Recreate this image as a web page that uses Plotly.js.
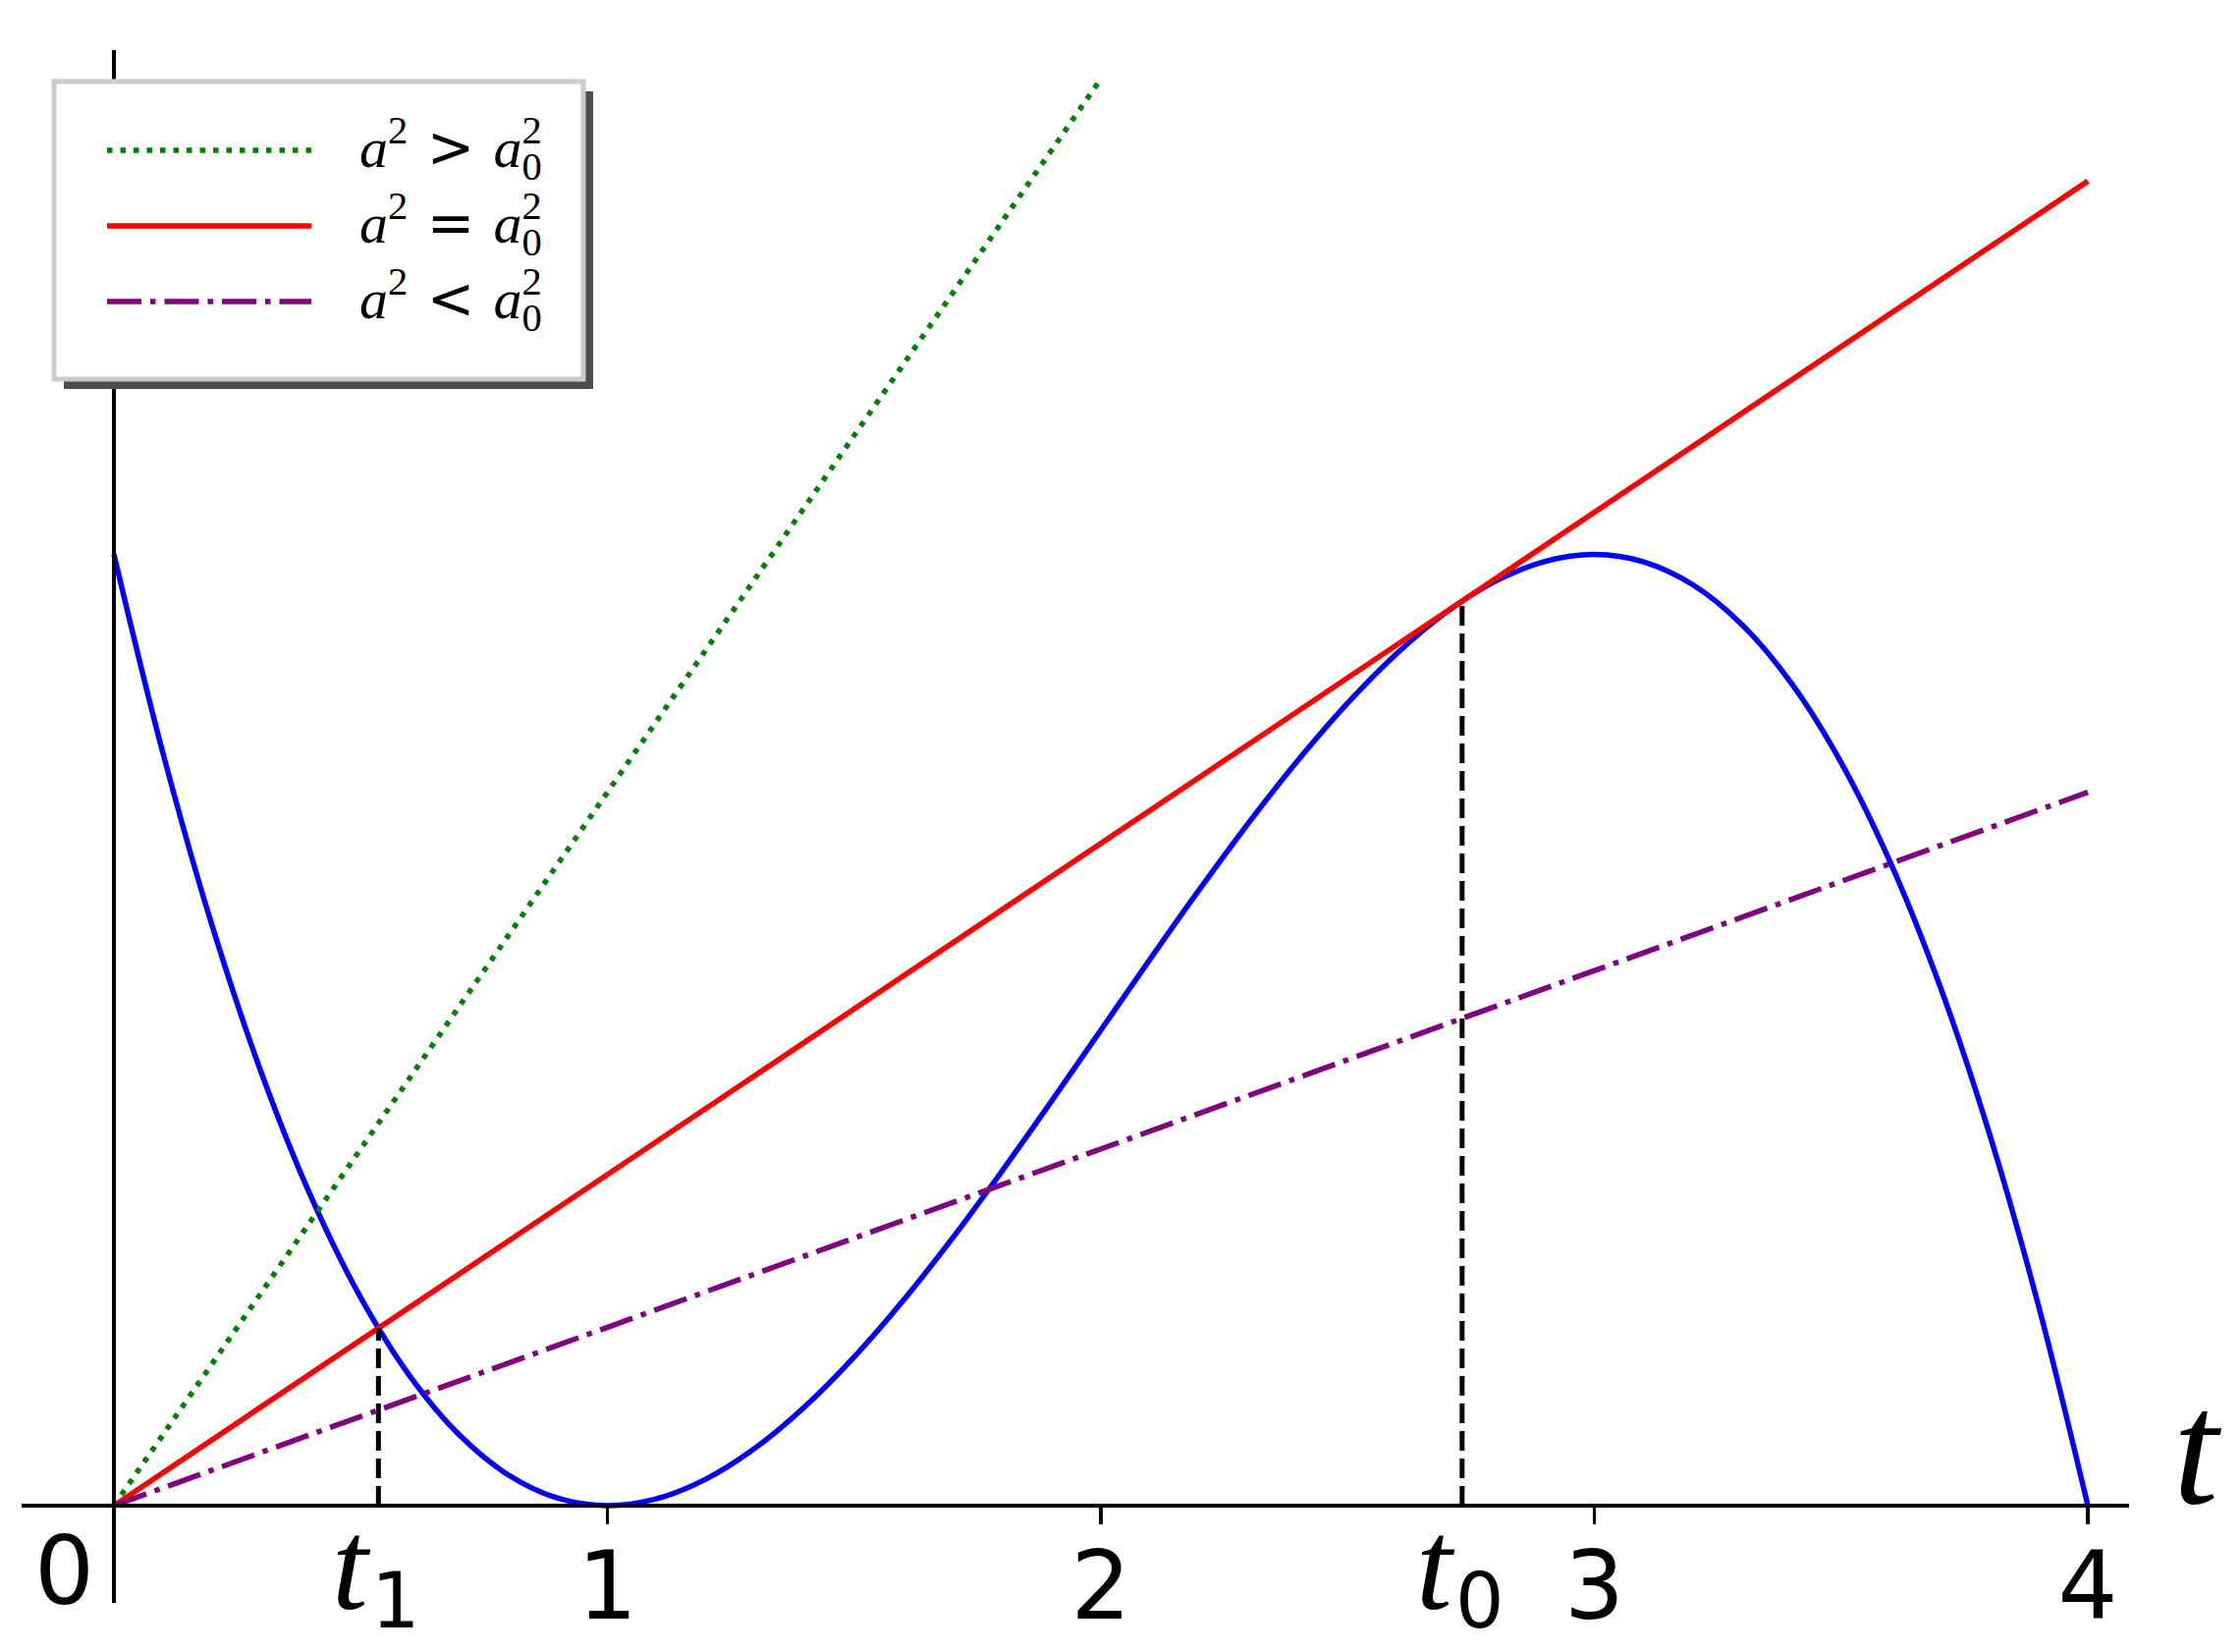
<!DOCTYPE html>
<html><head><meta charset="utf-8">
<script src="https://cdn.plot.ly/plotly-3.0.1.min.js"></script>
<style>html,body{margin:0;padding:0;background:#fff;} #chart{width:2281px;height:1682px;}</style>
</head><body><div id="chart"></div>
<script>
// ---------------- data ----------------
const curveT = [0,0.1,0.2,0.3,0.4,0.5,0.6,0.7,0.8,0.9,1.0,1.1,1.2,1.3,1.4,1.5,1.6,1.7,1.8,1.9,2.0,
                2.1,2.2,2.3,2.4,2.5,2.6,2.7,2.8,2.9,3.0,3.1,3.2,3.3,3.4,3.5,3.6,3.7,3.8,3.9,4.0];
const curveY = [4,3.159,2.432,1.813,1.296,0.875,0.544,0.297,0.128,0.031,0,0.029,0.112,0.243,0.416,0.625,0.864,1.127,1.408,1.701,2,
                2.299,2.592,2.873,3.136,3.375,3.584,3.757,3.888,3.971,4,3.969,3.872,3.703,3.456,3.125,2.704,2.187,1.568,0.841,0];
const steepT = [0, 2];      const steepY = [0, 6];        // a^2 > a0^2
const tangentT = [0, 4];    const tangentY = [0, 5.57];   // a^2 = a0^2
const shallowT = [0, 4];    const shallowY = [0, 3];      // a^2 < a0^2
const t1Val = 0.536, t1Height = 0.746;
const t0Val = 2.732, t0Height = 3.804;
const tickVals = [1, 2, 3, 4];
const tickText = ['1', '2', '3', '4'];
const specialTicks = [t1Val, t0Val];
const specialSubs = ['1', '0'];
const legendRelations = ['&gt;', '=', '&lt;'];

// ---------------- geometry ----------------
const W = 2281, H = 1682;
const L = 22, R = 2168, T = 51, B = 1632;
const xRange = [-0.1871, 4.0835];
const yRange = [-0.409, 6.121];
const px2x = p => (p - L) / (R - L);
const py2y = p => (B - p) / (B - T);

const LW = 5.5;
const greenDash = '5.5px,8px';
const purpleDash = '35px,9px,5.5px,9px';
const blackDash = '20px,8px';

const traces = [
  {x: curveT, y: curveY, mode: 'lines', line: {color: '#0000ff', width: LW, shape: 'spline', smoothing: 1}},
  {x: steepT, y: steepY, mode: 'lines', line: {color: '#008000', width: LW, dash: greenDash}},
  {x: tangentT, y: tangentY, mode: 'lines', line: {color: '#ff0000', width: LW}},
  {x: shallowT, y: shallowY, mode: 'lines', line: {color: '#800080', width: LW, dash: purpleDash}},
  {x: [t1Val, t1Val], y: [0, t1Height], mode: 'lines', line: {color: '#000000', width: 5, dash: blackDash}},
  {x: [t0Val, t0Val], y: [0, t0Height], mode: 'lines', line: {color: '#000000', width: 5, dash: blackDash}}
];

// legend (drawn by hand like matplotlib's)
const legendColors = ['#008000', '#ff0000', '#800080'];
const legendDashes = [greenDash, 'solid', purpleDash];
const rowY = [153, 230, 307];
const shapes = [
  {type: 'rect', xref: 'paper', yref: 'paper', x0: px2x(65), x1: px2x(604), y0: py2y(396), y1: py2y(93),
   fillcolor: '#4d4d4d', line: {width: 0}, layer: 'above'},
  {type: 'rect', xref: 'paper', yref: 'paper', x0: px2x(55), x1: px2x(594), y0: py2y(386), y1: py2y(83),
   fillcolor: '#ffffff', line: {color: '#cccccc', width: 5}, layer: 'above'}
];
rowY.forEach((ry, i) => {
  shapes.push({type: 'line', xref: 'paper', yref: 'paper', x0: px2x(109), x1: px2x(317), y0: py2y(ry), y1: py2y(ry),
    line: {color: legendColors[i], width: LW, dash: legendDashes[i]}, layer: 'above'});
});

// legend labels: a^2 (rel) a_0^2, with the sub/sup stacked (two text lines in one annotation)
const F = 58;                       // main math font size
const SUPF = 0.7 * F;               // script size
const SUPRAISE = 0.42 * F;          // plotly's superscript raise
const sp = '&#8196;';               // 1/3 em space
const prefixW = F * (0.5 + 0.35 + 2 / 3 + 0.838 + 0.5);   // width of "a² > a"
const spacerSize = (prefixW / 6).toFixed(2);
const annotations = [];
rowY.forEach((ry, i) => {
  const rel = `<span style="font-family:DejaVu Sans">${legendRelations[i]}</span>`;
  const line1 = `<span style="font-size:${spacerSize}px">&#8195;&#8195;&#8195;&#8195;&#8195;&#8195;</span>` +
                `<span style="font-size:${SUPF}px">2</span>`;
  const line2 = `<span style="font-size:${F}px"><i>a</i><sup>2</sup>${sp}${rel}${sp}<i>a</i><sub>0</sub></span>`;
  annotations.push({xref: 'paper', yref: 'paper', x: px2x(364), y: py2y(ry + 41), xanchor: 'left', yanchor: 'bottom',
    align: 'left', showarrow: false,
    font: {family: 'Liberation Serif', size: SUPRAISE / 1.3, color: '#000'},
    text: line1 + '<br>' + line2});
});

// tick-like labels
annotations.push({xref: 'x', yref: 'y', x: -0.101, y: 0, yshift: -67, xanchor: 'center', yanchor: 'middle',
  showarrow: false, text: '0', font: {family: 'DejaVu Sans', size: 96, color: '#000'}});
specialTicks.forEach((tv, i) => {
  annotations.push({xref: 'x', yref: 'y', x: tv, y: 0, xshift: -27, yshift: -61, xanchor: 'center', yanchor: 'middle',
    showarrow: false, text: '<i>t</i>', font: {family: 'Liberation Serif', size: 132, color: '#000'}});
  annotations.push({xref: 'x', yref: 'y', x: tv, y: 0, xshift: 18, yshift: -97, xanchor: 'center', yanchor: 'middle',
    showarrow: false, text: specialSubs[i], font: {family: 'DejaVu Sans', size: 78, color: '#000'}});
});
// axis name
annotations.push({xref: 'paper', yref: 'paper', x: px2x(2238), y: py2y(1474), xanchor: 'center', yanchor: 'middle',
  showarrow: false, text: '<i>t</i>', font: {family: 'Liberation Serif', size: 165, color: '#000'}});

const layout = {
  width: W, height: H,
  margin: {l: L, r: W - R, t: T, b: H - B, pad: 0},
  paper_bgcolor: '#ffffff', plot_bgcolor: 'rgba(0,0,0,0)',
  showlegend: false,
  xaxis: {range: xRange, domain: [0, 1], anchor: 'free', position: (0 - yRange[0]) / (yRange[1] - yRange[0]),
    showline: true, linecolor: '#000', linewidth: 4, ticks: 'outside', ticklen: 17, tickwidth: 3.5, tickcolor: '#000',
    tickmode: 'array', tickvals: tickVals, ticktext: tickText, ticklabelstandoff: -19,
    tickfont: {family: 'DejaVu Sans', size: 96, color: '#000'},
    showgrid: false, zeroline: false, fixedrange: true},
  yaxis: {range: yRange, domain: [0, 1], anchor: 'free', position: (0 - xRange[0]) / (xRange[1] - xRange[0]),
    showline: true, linecolor: '#000', linewidth: 4, ticks: '', showticklabels: false,
    showgrid: false, zeroline: false, fixedrange: true},
  shapes: shapes,
  annotations: annotations
};

Plotly.newPlot('chart', traces, layout, {staticPlot: true, displayModeBar: false});
</script>
</body></html>
